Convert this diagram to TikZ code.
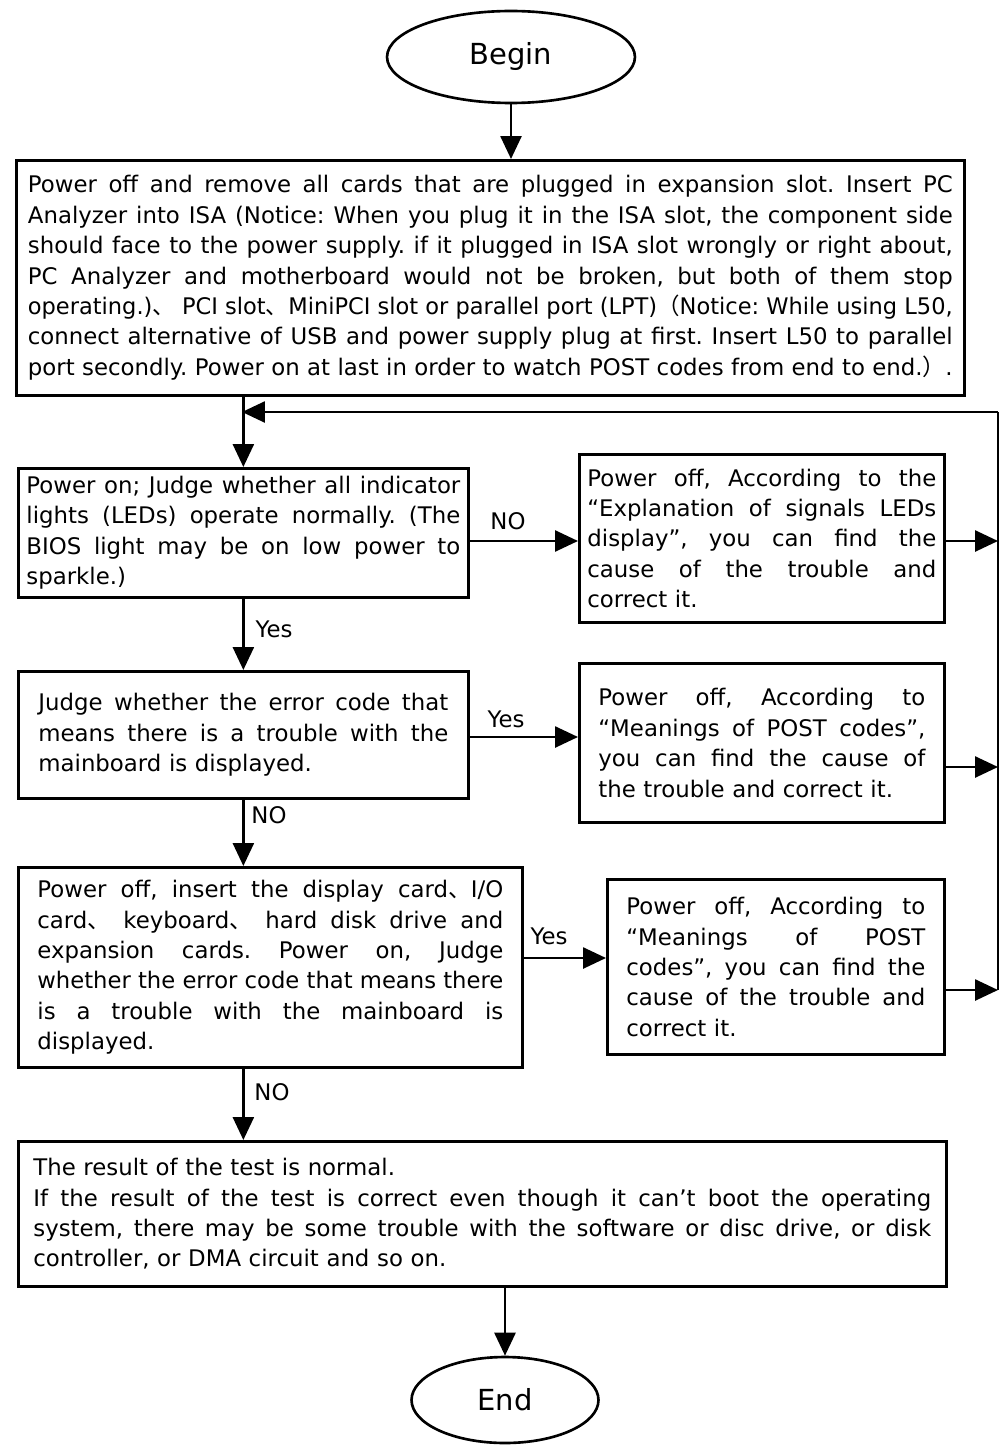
\documentclass[tikz,border=0pt]{standalone}
\usepackage{fontspec}
\setmainfont{DejaVu Sans}
\newfontfamily\cjk{Noto Sans CJK SC}
\usepackage{graphicx}
\usetikzlibrary{shapes.geometric,arrows.meta}
\frenchspacing
\newcommand\dun{{\cjk 、}}
\newcommand\jx[1]{\setbox0=\hbox{\spaceskip=0pt\xspaceskip=0pt #1}\ifdim\wd0>\linewidth\resizebox{\linewidth}{\height}{\box0}\else\makebox[\linewidth][s]{\spaceskip=0pt\xspaceskip=0pt\unhbox0}\fi}
\newcommand\jl[1]{\jx{#1}\\}
\tikzset{
  box/.style={draw, line width=1.6pt, rectangle, anchor=north west, inner ysep=0pt, align=left,
    font=\fontsize{13}{17.3}\selectfont\frenchspacing},
  term/.style={draw, ellipse, line width=1.5pt, inner sep=0pt, font=\fontsize{16.5}{20}\selectfont},
  arr/.style={line width=1.5pt, -{Triangle[length=0.46cm,width=0.42cm]}},
  plain/.style={line width=1.5pt},
  lbl/.style={inner sep=1pt, font=\fontsize{13}{16}\selectfont}
}
\begin{document}
\begin{tikzpicture}[x=0.02cm, y=-0.02cm]
\useasboundingbox (0,0) rectangle (1000,1446);

\node[term, minimum width=4.96cm, minimum height=1.84cm] (begin) at (511,57) {Begin};

\node[box, minimum width=18.96cm, minimum height=4.7cm, text width=18.5cm, inner xsep=0.23cm] (b1) at (15,159) {%
\jl{Power off and remove all cards that are plugged in expansion slot. Insert PC}
\jl{Analyzer into ISA (Notice: When you plug it in the ISA slot, the component side}
\jl{should face to the power supply. if it plugged in ISA slot wrongly or right about,}
\jl{PC Analyzer and motherboard would not be broken, but both of them stop}
\jl{operating.)\dun{} PCI slot\dun{}MiniPCI slot or parallel port (LPT){\cjk （}Notice: While using L50,}
\jl{connect alternative of USB and power supply plug at first. Insert L50 to parallel}
\jx{port secondly. Power on at last in order to watch POST codes from end to end.{\cjk ）}.}};

\node[box, minimum width=9.0cm, minimum height=2.58cm, text width=8.68cm, inner xsep=0.16cm] (b2) at (17,467) {%
\jl{Power on; Judge whether all indicator}
\jl{lights (LEDs) operate normally. (The}
\jl{BIOS light may be on low power to}
sparkle.)};

\node[box, minimum width=7.3cm, minimum height=3.36cm, text width=6.98cm, inner xsep=0.16cm] (b3) at (578,453) {%
\jl{Power off, According to the}
\jl{“Explanation of signals LEDs}
\jl{display”, you can find the}
\jl{cause of the trouble and}
correct it.};

\node[box, minimum width=9.0cm, minimum height=2.54cm, text width=8.2cm, inner xsep=0.4cm] (b4) at (17,670) {%
\jl{Judge whether the error code that}
\jl{means there is a trouble with the}
mainboard is displayed.};

\node[box, minimum width=7.3cm, minimum height=3.18cm, text width=6.54cm, inner xsep=0.38cm] (b5) at (578,662) {%
\jl{Power off, According to}
\jl{“Meanings of POST codes”,}
\jl{you can find the cause of}
the trouble and correct it.};

\node[box, minimum width=10.08cm, minimum height=4.0cm, text width=9.32cm, inner xsep=0.38cm] (b6) at (17,866) {%
\jl{Power off, insert the display card\dun{}I/O}
\jl{card\dun{} keyboard\dun{} hard disk drive and}
\jl{expansion cards. Power on, Judge}
\jl{whether the error code that means there}
\jl{is a trouble with the mainboard is}
displayed.};

\node[box, minimum width=6.74cm, minimum height=3.5cm, text width=5.98cm, inner xsep=0.38cm] (b7) at (606,878) {%
\jl{Power off, According to}
\jl{“Meanings of POST}
\jl{codes”, you can find the}
\jl{cause of the trouble and}
correct it.};

\node[box, minimum width=18.56cm, minimum height=2.9cm, text width=17.96cm, inner xsep=0.3cm] (b8) at (17,1140) {%
The result of the test is normal.\\
\jl{If the result of the test is correct even though it can’t boot the operating}
\jl{system, there may be some trouble with the software or disc drive, or disk}
controller, or DMA circuit and so on.};

\node[term, minimum width=3.74cm, minimum height=1.72cm] (end) at (505,1400) {End};

% feedback loop coordinates
\coordinate (fbtop) at (998,412);
\coordinate (fbjoin) at (242,412);
\coordinate (fbbot) at (998,990);

% connectors
\draw[arr] (begin.south) -- (begin.south |- b1.north);
\draw[arr] (b2.north |- b1.south) -- (b2.north);
\draw[plain] (fbbot) -- (fbtop);
\draw[arr] (fbtop) -- (fbjoin);

\draw[arr] (b2.east |- 0,541) -- (b3.west |- 0,541);
\node[lbl] (lno1) at (508,521) {NO};
\draw[arr] (b3.east |- 0,541) -- (fbtop |- 0,541);

\draw[arr] (b2.south) -- (b4.north);
\node[lbl] (lyes1) at (274,629) {Yes};

\draw[arr] (b4.east |- 0,737) -- (b5.west |- 0,737);
\node[lbl] (lyes2) at (506,719) {Yes};
\draw[arr] (b5.east |- 0,767) -- (fbtop |- 0,767);

\draw[arr] (b4.south) -- (b4.south |- b6.north);
\node[lbl] (lno2) at (269,815) {NO};

\draw[arr] (b6.east |- 0,958) -- (b7.west |- 0,958);
\node[lbl] (lyes3) at (549,936) {Yes};
\draw[arr] (b7.east |- 0,990) -- (fbbot);

\draw[arr] (b4.south |- b6.south) -- (b4.south |- b8.north);
\node[lbl] (lno3) at (272,1092) {NO};

\draw[arr] (end.north |- b8.south) -- (end.north);
\end{tikzpicture}
\end{document}
